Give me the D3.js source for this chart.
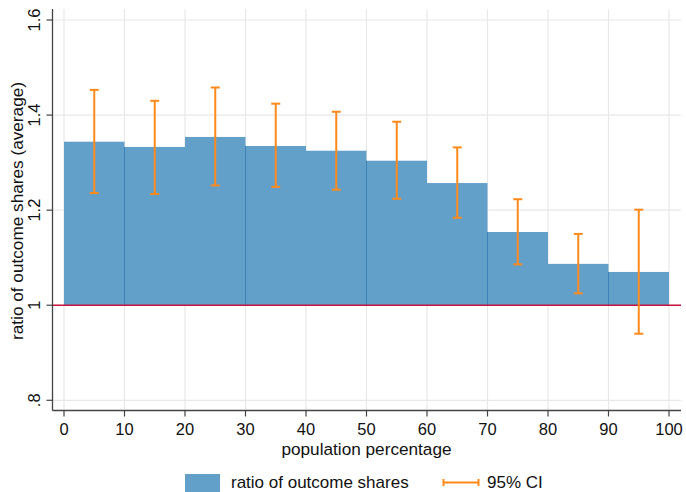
<!DOCTYPE html>
<html><head><meta charset="utf-8">
<script src="https://cdn.jsdelivr.net/npm/d3@7"></script>
<style>body{margin:0;background:#fff}svg{display:block}text{font-family:"Liberation Sans",Arial,sans-serif;fill:#111}</style>
</head><body><svg id="c" width="686" height="492"></svg>
<script>
const binStart = [0,10,20,30,40,50,60,70,80,90];
const binEnd   = [10,20,30,40,50,60,70,80,90,100];
const ratio    = [1.344,1.333,1.354,1.335,1.325,1.304,1.257,1.154,1.087,1.070];
const ciLow    = [1.236,1.234,1.252,1.249,1.243,1.224,1.184,1.086,1.025,0.940];
const ciHigh   = [1.453,1.430,1.458,1.424,1.407,1.386,1.332,1.223,1.150,1.201];
const xTicks   = [0,10,20,30,40,50,60,70,80,90,100];
const yTicks   = [0.8,1.0,1.2,1.4,1.6];
const yTickLabels = [".8","1","1.2","1.4","1.6"];

const svg = d3.select("#c");
const x = d3.scaleLinear().domain([0,100]).range([64,669]);
const y = d3.scaleLinear().domain([0.8,1.6]).range([400.3,20]);
const pLeft = 52.5, pRight = 681, pBottom = 410.5, pTop = 9;

// grid
svg.append("g").selectAll("line").data(xTicks).join("line")
  .attr("x1",d=>x(d)).attr("x2",d=>x(d)).attr("y1",pTop).attr("y2",pBottom)
  .attr("stroke","#e8e8e8").attr("stroke-width",1.2);
svg.append("g").selectAll("line").data(yTicks).join("line")
  .attr("x1",pLeft).attr("x2",pRight).attr("y1",d=>y(d)).attr("y2",d=>y(d))
  .attr("stroke","#e8e8e8").attr("stroke-width",1.2);

// bars
const data = ratio.map((r,i)=>({s:binStart[i],e:binEnd[i],r,lo:ciLow[i],hi:ciHigh[i],i}));
svg.append("g").selectAll("rect").data(data).join("rect")
  .attr("x",d=>x(d.s)).attr("width",d=>x(d.e)-x(d.s))
  .attr("y",d=>y(d.r)).attr("height",d=>y(1)-y(d.r))
  .attr("fill","#62a0ca");
svg.append("g").selectAll("line").data(data.filter(d=>d.i%2===1)).join("line")
  .attr("x1",d=>x(d.s)).attr("x2",d=>x(d.s))
  .attr("y1",d=>y(Math.min(d.r,data[d.i-1].r))).attr("y2",y(1))
  .attr("stroke","#3d82b8").attr("stroke-width",1);

// reference line
svg.append("line").attr("x1",pLeft).attr("x2",pRight).attr("y1",y(1)).attr("y2",y(1))
  .attr("stroke","#c8143c").attr("stroke-width",1.3);

// error bars
const eb = svg.append("g").attr("stroke","#ff8a1c").attr("stroke-width",2);
data.forEach(d=>{
  const cx = x((d.s+d.e)/2);
  eb.append("line").attr("x1",cx).attr("x2",cx).attr("y1",y(d.hi)).attr("y2",y(d.lo));
  eb.append("line").attr("x1",cx-4.5).attr("x2",cx+4.5).attr("y1",y(d.hi)).attr("y2",y(d.hi));
  eb.append("line").attr("x1",cx-4.5).attr("x2",cx+4.5).attr("y1",y(d.lo)).attr("y2",y(d.lo));
});

// axes
svg.append("line").attr("x1",pLeft).attr("x2",pLeft).attr("y1",pTop).attr("y2",pBottom)
  .attr("stroke","#444").attr("stroke-width",1.3);
svg.append("line").attr("x1",pLeft).attr("x2",pRight).attr("y1",pBottom).attr("y2",pBottom)
  .attr("stroke","#444").attr("stroke-width",1.3);

svg.append("g").selectAll("line").data(xTicks).join("line")
  .attr("x1",d=>x(d)).attr("x2",d=>x(d)).attr("y1",pBottom).attr("y2",pBottom+6)
  .attr("stroke","#444").attr("stroke-width",1.2);
svg.append("g").selectAll("text").data(xTicks).join("text")
  .attr("x",d=>x(d)).attr("y",435).attr("text-anchor","middle")
  .attr("font-size",16.5).text(d=>d);

svg.append("g").selectAll("line").data(yTicks).join("line")
  .attr("x1",pLeft-6).attr("x2",pLeft).attr("y1",d=>y(d)).attr("y2",d=>y(d))
  .attr("stroke","#444").attr("stroke-width",1.2);
svg.append("g").selectAll("text").data(yTicks).join("text")
  .attr("transform",(d)=>`translate(39.5,${y(d)}) rotate(-90)`)
  .attr("text-anchor","middle").attr("font-size",16.5)
  .text((d,i)=>yTickLabels[i]);

svg.append("text").attr("x",(x(0)+x(100))/2).attr("y",455).attr("text-anchor","middle")
  .attr("font-size",17.2).text("population percentage");
svg.append("text").attr("transform",`translate(23,211) rotate(-90)`)
  .attr("text-anchor","middle").attr("font-size",17.2).text("ratio of outcome shares (average)");

// legend
const lg = svg.append("g");
lg.append("rect").attr("x",185).attr("y",474).attr("width",35).attr("height",20).attr("fill","#62a0ca");
lg.append("text").attr("x",231).attr("y",488).attr("font-size",17).text("ratio of outcome shares");
lg.append("line").attr("x1",443).attr("x2",479).attr("y1",482.5).attr("y2",482.5).attr("stroke","#ff8a1c").attr("stroke-width",2);
lg.append("line").attr("x1",443.5).attr("x2",443.5).attr("y1",479).attr("y2",486).attr("stroke","#ff8a1c").attr("stroke-width",2);
lg.append("line").attr("x1",478.5).attr("x2",478.5).attr("y1",479).attr("y2",486).attr("stroke","#ff8a1c").attr("stroke-width",2);
lg.append("text").attr("x",487).attr("y",488).attr("font-size",17).text("95% CI");
</script></body></html>
